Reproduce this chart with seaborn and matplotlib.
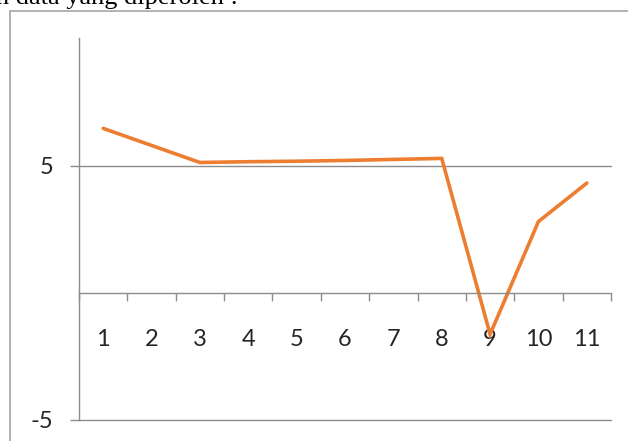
import matplotlib
matplotlib.use("Agg")
import matplotlib.pyplot as plt
from matplotlib.patches import Rectangle
import seaborn as sns
import pandas as pd

# Measurement series
categories = [1, 2, 3, 4, 5, 6, 7, 8, 9, 10, 11]
values = [6.46, 5.79, 5.12, 5.15, 5.17, 5.20, 5.24, 5.28, -1.63, 2.80, 4.31]
y_ticks = [-5, 5]
caption = "h data yang diperoleh :"

df = pd.DataFrame({"x": categories, "y": values})

sns.set_theme(style="white")
plt.rcParams["font.family"] = ["Lato", "DejaVu Sans"]
plt.rcParams["axes.unicode_minus"] = False

W, H = 628, 441
fig = plt.figure(figsize=(W / 100, H / 100), dpi=100)
fig.patch.set_facecolor("white")

# Chart frame and the caption line above it
fig.add_artist(Rectangle((9.5 / W, -0.1), 1.2, (H - 11) / H + 0.1,
                         transform=fig.transFigure, fill=False,
                         edgecolor="#a6a6a6", linewidth=1.2))
fig.text(-4 / W, (H - 4) / H, caption, family="Liberation Serif",
         fontsize=19, color="black", ha="left", va="baseline")

ax = fig.add_axes([79 / W, 21 / H, (611 - 79) / W, (420 - 38.3) / H])
sns.lineplot(data=df, x="x", y="y", ax=ax, color="#ED7D31",
             linewidth=2.6, solid_joinstyle="miter")

ax.set_xlim(0.5, 11.5)
ax.set_ylim(-5, 10)
ax.set_xlabel("")
ax.set_ylabel("")

grey = "#8c8c8c"
for yv in y_ticks:
    ax.axhline(yv, color=grey, linewidth=1.0, zorder=0, clip_on=False)

for s in ["top", "right"]:
    ax.spines[s].set_visible(False)
ax.spines["bottom"].set_position(("data", 0))
for s in ["left", "bottom"]:
    ax.spines[s].set_color(grey)
    ax.spines[s].set_linewidth(1.0)

ax.set_yticks(y_ticks)
ax.set_yticklabels([str(v) for v in y_ticks])
ax.tick_params(axis="y", direction="out", length=6.5, width=1.0,
               color=grey, labelsize=17, pad=12, left=True)

ax.set_xticks(categories)
ax.set_xticklabels([str(c) for c in categories])
ax.set_xticks([c + 0.5 for c in [0] + categories], minor=True)
ax.tick_params(axis="x", which="major", length=0, labelsize=17, pad=26)
ax.tick_params(axis="x", which="minor", direction="out", length=6,
               width=1.0, color=grey, bottom=True)
ax.patch.set_alpha(0)

fig.savefig("out.png", dpi=100, facecolor="white")
